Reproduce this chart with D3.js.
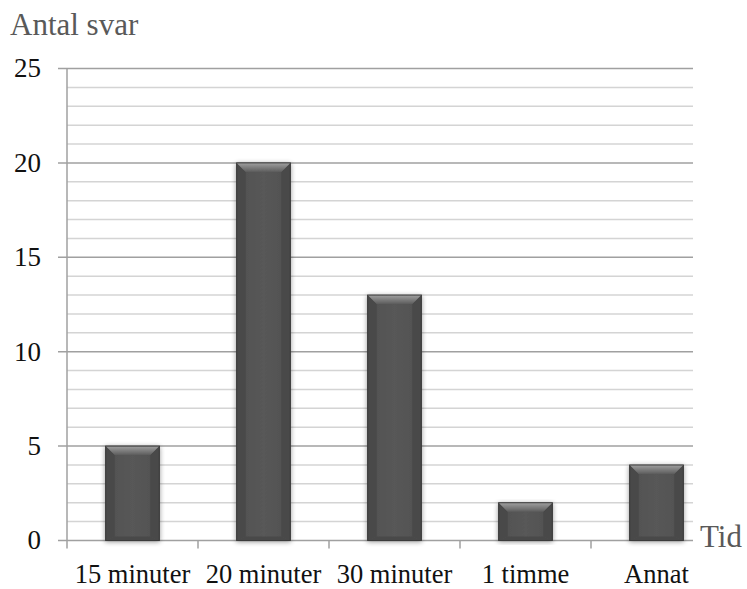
<!DOCTYPE html>
<html>
<head>
<meta charset="utf-8">
<script src="https://cdn.jsdelivr.net/npm/d3@7"></script>
<style>
  html, body { margin: 0; padding: 0; background: #fff; }
  svg { display: block; }
</style>
</head>
<body>
<svg id="chart" width="747" height="589"></svg>
<script>
// Antal svar per tidsalternativ
const categories = ["15 minuter", "20 minuter", "30 minuter", "1 timme", "Annat"];
const values = [5, 20, 13, 2, 4];
const yTicks = [0, 5, 10, 15, 20, 25];
const yMinor = d3.range(0, 26, 1);

const serif = "'Liberation Serif', Tinos, 'Times New Roman', 'DejaVu Serif', serif";

const svg = d3.select("#chart");
const plotLeft = 67, bandRight = 722, gridRight = 693, plotTop = 68.5, plotBottom = 540.5;

const x = d3.scaleBand().domain(categories).range([plotLeft, bandRight]).padding(0);
const y = d3.scaleLinear().domain([0, 25]).range([plotBottom, plotTop]);

// Gradients and shadow for the bevelled bars
const defs = svg.append("defs");
const topGrad = defs.append("linearGradient").attr("id", "bevelTop")
  .attr("x1", 0).attr("y1", 0).attr("x2", 0).attr("y2", 1);
topGrad.append("stop").attr("offset", "0%").attr("stop-color", "#a0a0a0");
topGrad.append("stop").attr("offset", "100%").attr("stop-color", "#5c5c5c");
const bodyGrad = defs.append("linearGradient").attr("id", "bevelBody")
  .attr("x1", 0).attr("y1", 0).attr("x2", 1).attr("y2", 0);
bodyGrad.append("stop").attr("offset", "0%").attr("stop-color", "#505050");
bodyGrad.append("stop").attr("offset", "50%").attr("stop-color", "#585858");
bodyGrad.append("stop").attr("offset", "100%").attr("stop-color", "#505050");
const shadow = defs.append("filter").attr("id", "barShadow")
  .attr("x", "-30%").attr("y", "-10%").attr("width", "160%").attr("height", "120%");
shadow.append("feGaussianBlur").attr("in", "SourceAlpha").attr("stdDeviation", 2.5).attr("result", "b");
shadow.append("feOffset").attr("in", "b").attr("dx", 0).attr("dy", 1).attr("result", "o");
shadow.append("feComponentTransfer").attr("in", "o").attr("result", "s")
  .append("feFuncA").attr("type", "linear").attr("slope", 0.4);
const merge = shadow.append("feMerge");
merge.append("feMergeNode").attr("in", "s");
merge.append("feMergeNode").attr("in", "SourceGraphic");

// Minor gridlines
svg.append("g").selectAll("line").data(yMinor.filter(v => v % 5 !== 0)).join("line")
  .attr("x1", plotLeft).attr("x2", gridRight)
  .attr("y1", d => y(d)).attr("y2", d => y(d))
  .attr("stroke", "#d4d4d4").attr("stroke-width", 1.5);

// Major gridlines with tick marks left of the axis
svg.append("g").selectAll("line").data(yTicks).join("line")
  .attr("x1", plotLeft - 9).attr("x2", gridRight)
  .attr("y1", d => y(d)).attr("y2", d => y(d))
  .attr("stroke", "#a0a0a0").attr("stroke-width", 1.5);

// Vertical value axis line
svg.append("line")
  .attr("x1", plotLeft).attr("x2", plotLeft)
  .attr("y1", plotTop).attr("y2", plotBottom + 8)
  .attr("stroke", "#a0a0a0").attr("stroke-width", 1.5);

// Category tick marks at band boundaries
const bounds = categories.slice(1).map(c => x(c));
svg.append("g").selectAll("line").data(bounds).join("line")
  .attr("x1", d => d).attr("x2", d => d)
  .attr("y1", plotBottom).attr("y2", plotBottom + 8)
  .attr("stroke", "#a0a0a0").attr("stroke-width", 1.5);

// Value tick labels
svg.append("g").selectAll("text").data(yTicks).join("text")
  .attr("x", 41).attr("y", d => y(d))
  .attr("dy", "0.33em")
  .attr("text-anchor", "end")
  .attr("font-family", serif)
  .attr("font-size", 27).attr("fill", "#111")
  .text(d => d);

// Bars with a bevelled face
const barW = x.bandwidth() * 0.41;
const bev = 9, inset = 9;
const bars = svg.append("g").selectAll("g").data(values).join("g")
  .attr("filter", "url(#barShadow)")
  .attr("transform", (d, i) => `translate(${x(categories[i]) + (x.bandwidth() - barW) / 2},${y(d)})`);

bars.append("rect")
  .attr("width", barW)
  .attr("height", d => y(0) - y(d))
  .attr("fill", "url(#bevelBody)");
// side facets
bars.append("path")
  .attr("d", d => { const h = y(0) - y(d); return `M0,0 L${inset},${bev} V${h - 4} L0,${h} Z`; })
  .attr("fill", "#484848");
bars.append("path")
  .attr("d", d => { const h = y(0) - y(d); return `M${barW},0 L${barW - inset},${bev} V${h - 4} L${barW},${h} Z`; })
  .attr("fill", "#484848");
// bottom facet
bars.append("path")
  .attr("d", d => { const h = y(0) - y(d); return `M0,${h} L${inset},${h - 4} H${barW - inset} L${barW},${h} Z`; })
  .attr("fill", "#4a4a4a");
// top facet
bars.append("path")
  .attr("d", `M0,0 H${barW} L${barW - inset},${bev} H${inset} Z`)
  .attr("fill", "url(#bevelTop)");
// outline
bars.append("rect")
  .attr("width", barW)
  .attr("height", d => y(0) - y(d))
  .attr("fill", "none").attr("stroke", "#3a3a3a").attr("stroke-width", 1);

// Category labels
svg.append("g").selectAll("text").data(categories).join("text")
  .attr("x", d => x(d) + x.bandwidth() / 2)
  .attr("y", 583)
  .attr("text-anchor", "middle")
  .attr("font-family", serif)
  .attr("font-size", 26.5).attr("fill", "#111")
  .text(d => d);

// Axis titles
svg.append("text").attr("x", 10).attr("y", 35)
  .attr("font-family", serif)
  .attr("font-size", 31).attr("fill", "#595959").text("Antal svar");
svg.append("text").attr("x", 700).attr("y", 547)
  .attr("font-family", serif)
  .attr("font-size", 31).attr("fill", "#595959").text("Tid");
</script>
</body>
</html>
